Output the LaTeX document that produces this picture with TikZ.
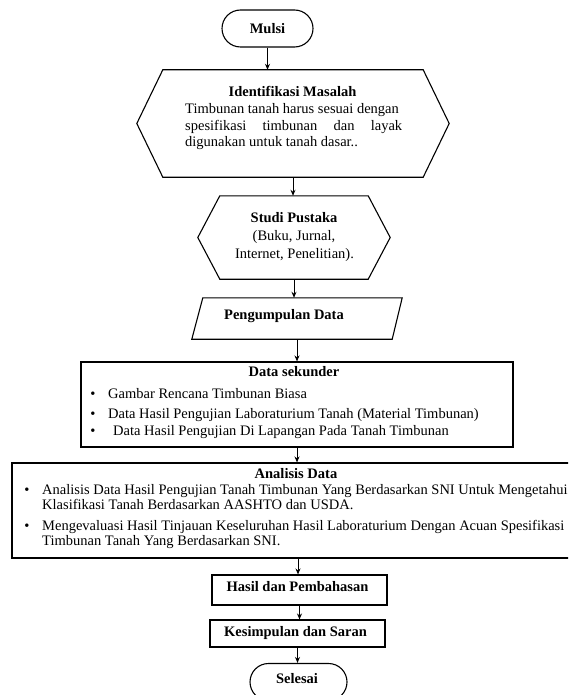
\documentclass[tikz,border=0pt]{standalone}
\usepackage{fontspec}
\setmainfont{Liberation Serif}
\usetikzlibrary{arrows.meta,calc,shapes.misc}
\newcommand{\fs}{\fontsize{14.5}{16.7}\selectfont}
\tikzset{
  line/.style={draw,line width=1.1pt},
  frame/.style={line,inner sep=0pt},
  ghost/.style={inner sep=0pt},
  term/.style={line,rounded rectangle,inner sep=0pt,minimum height=37pt,font=\fs\bfseries},
  txt/.style={inner sep=0pt,text height=10pt,text depth=3pt,font=\fs},
  ttl/.style={txt,font=\fs\bfseries},
  bul/.style={inner sep=0pt,font=\fs},
  arr/.style={-{Stealth[length=6pt,width=5pt]},line width=1pt}
}
\begin{document}
\begin{tikzpicture}[x=1pt,y=-1pt]
\useasboundingbox (0,0) rectangle (568,695);
\clip (0,0) rectangle (568,695);

% Mulsi
\node[term,minimum width=91pt] (mulai) at (267.5,28.5) {Mulsi};

% Identifikasi Masalah (hexagon)
\node[ghost,minimum width=312pt,minimum height=107pt] (idm) at (293,123.5) {};
\draw[line] ($(idm.north west)+(26,0)$) -- ($(idm.north east)+(-26,0)$) -- (idm.east)
  -- ($(idm.south east)+(-26,0)$) -- ($(idm.south west)+(26,0)$) -- (idm.west) -- cycle;
\node[ttl] (idmt) at (292.5,93) {Identifikasi Masalah};
\node[txt,anchor=west] (idm1) at (185,110) {Timbunan tanah harus sesuai dengan};
\node[txt,anchor=west] (idm2) at (185,127) {\makebox[217pt][s]{spesifikasi timbunan dan layak}};
\node[txt,anchor=west] (idm3) at (185,143) {digunakan untuk tanah dasar..};

% Studi Pustaka (hexagon)
\node[ghost,minimum width=192pt,minimum height=83pt] (sp) at (294,237.5) {};
\draw[line] ($(sp.north west)+(22,0)$) -- ($(sp.north east)+(-22,0)$) -- (sp.east)
  -- ($(sp.south east)+(-22,0)$) -- ($(sp.south west)+(22,0)$) -- (sp.west) -- cycle;
\node[ttl] (spt) at (294,219) {Studi Pustaka};
\node[txt] (sp1) at (294,237) {(Buku, Jurnal,};
\node[txt] (sp2) at (294.5,255) {Internet, Penelitian).};

% Pengumpulan Data (parallelogram)
\node[ghost,minimum width=210pt,minimum height=41pt] (pd) at (297,318.5) {};
\draw[line] ($(pd.north west)+(11,0)$) -- (pd.north east) -- ($(pd.south east)+(-10,0)$)
  -- (pd.south west) -- cycle;
\node[ttl] (pdt) at (284,316) {Pengumpulan Data};

% Data sekunder
\node[frame,minimum width=432pt,minimum height=85pt] (ds) at (297,404.5) {};
\node[ttl] (dst) at (294,373) {Data sekunder};
\node[bul] (dsb1) at (93,395) {•};
\node[bul] (dsb2) at (93,415) {•};
\node[bul] (dsb3) at (93,432) {•};
\node[txt,anchor=west] (ds1) at (108,395) {Gambar Rencana Timbunan Biasa};
\node[txt,anchor=west] (ds2) at (108,415) {Data Hasil Pengujian Laboraturium Tanah (Material Timbunan)};
\node[txt,anchor=west] (ds3) at (113,432) {Data Hasil Pengujian Di Lapangan Pada Tanah Timbunan};

% Analisis Data
\node[frame,minimum width=572pt,minimum height=95pt] (an) at (298,510.5) {};
\node[ttl] (ant) at (296,475) {Analisis Data};
\node[bul] (anb1) at (27,491) {•};
\node[bul] (anb2) at (27,527) {•};
\node[txt,anchor=west] (an1) at (42,491) {Analisis Data Hasil Pengujian Tanah Timbunan Yang Berdasarkan SNI Untuk Mengetahui};
\node[txt,anchor=west] (an2) at (42,506) {Klasifikasi Tanah Berdasarkan AASHTO dan USDA.};
\node[txt,anchor=west] (an3) at (42,527) {Mengevaluasi Hasil Tinjauan Keseluruhan Hasil Laboraturium Dengan Acuan Spesifikasi};
\node[txt,anchor=west] (an4) at (42,542) {Timbunan Tanah Yang Berdasarkan SNI.};

% Hasil dan Pembahasan
\node[frame,minimum width=175pt,minimum height=30pt] (hp) at (299.5,590) {};
\node[ttl] (hpt) at (297.5,588) {Hasil dan Pembahasan};

% Kesimpulan dan Saran
\node[frame,minimum width=175pt,minimum height=27pt] (ks) at (297.5,633.5) {};
\node[ttl] (kst) at (295.5,633) {Kesimpulan dan Saran};

% Selesai
\node[term,minimum width=97pt] (sel) at (298.5,682) {};
\node[ttl] (selt) at (297,680) {Selesai};

% connectors
\draw[arr] (mulai.south) -- (mulai.south |- idm.north);
\draw[arr] (idm.south) -- (idm.south |- sp.north);
\draw[arr] (sp.south) -- (sp.south |- pd.north);
\draw[arr] (pd.south) -- (pd.south |- ds.north);
\draw[arr] (ds.south) -- (ds.south |- an.north);
\draw[arr] (an.south) -- (an.south |- hp.north);
\draw[arr] (hp.south) -- (hp.south |- ks.north);
\draw[arr] (ks.south) -- (ks.south |- sel.north);
\end{tikzpicture}
\end{document}
